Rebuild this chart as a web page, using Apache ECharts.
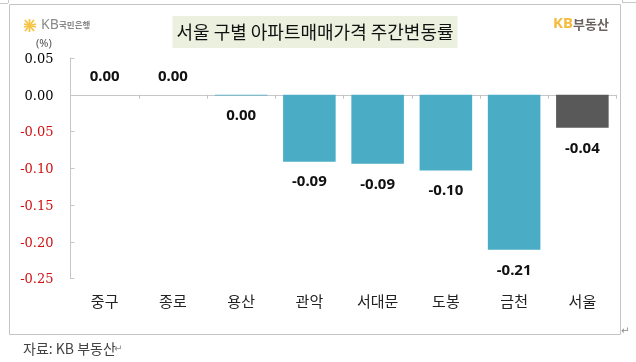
<!DOCTYPE html>
<html><head><meta charset="utf-8">
<style>html,body{margin:0;padding:0;background:#fff}#c{width:636px;height:362px}</style>
<script src="https://cdn.jsdelivr.net/npm/echarts@6/dist/echarts.min.js"></script>
</head><body><div id="c"></div>
<script>
const categories = ['중구','종로','용산','관악','서대문','도봉','금천','서울'];
const values = [0, 0, -0.001, -0.091, -0.094, -0.103, -0.211, -0.045];
const valueLabels = ['0.00','0.00','0.00','-0.09','-0.09','-0.10','-0.21','-0.04'];
const KR = '"Noto Sans CJK KR","Noto Sans",sans-serif';
const line = (x1,y1,x2,y2,stroke,w) => ({type:'line',silent:true,shape:{x1,y1,x2,y2},style:{stroke,lineWidth:w||1}});
const txt = (x,y,text,font,fill,extra) => ({type:'text',silent:true,x,y,style:Object.assign({text,font,fill,textVerticalAlign:'middle'},extra||{})});
const star = [[25,20,34,31],[34,20,25,31],[29.5,19,29.5,32],[24,24,36,27],[24,27,36,24]].map(a=>line(a[0],a[1],a[2],a[3],'#f6c445',1.8));
const chart = echarts.init(document.getElementById('c'),null,{renderer:'canvas'});
chart.setOption({
  animation:false,
  backgroundColor:'#fff',
  title:{text:'서울 구별 아파트매매가격 주간변동률',left:172.5,top:16,backgroundColor:'#ebf0df',
    padding:[6,4,6,4],textStyle:{fontFamily:KR,fontSize:18,fontWeight:'normal',color:'#111',lineHeight:20}},
  grid:{left:70.5,right:19.5,top:58,bottom:83.5},
  xAxis:[
    {type:'category',data:categories,axisLine:{onZero:true,lineStyle:{color:'#c6c6c6',width:1}},
     axisTick:{show:true,length:4,lineStyle:{color:'#c6c6c6'}},axisLabel:{show:false}},
    {type:'category',data:categories,position:'bottom',axisLine:{show:false},axisTick:{show:false},
     axisLabel:{margin:15,interval:0,fontFamily:KR,fontSize:15,color:'#222'}}
  ],
  yAxis:{type:'value',min:-0.25,max:0.05,interval:0.05,splitLine:{show:false},
    axisLine:{show:true,lineStyle:{color:'#c6c6c6',width:1}},
    axisTick:{show:true,inside:true,length:4,lineStyle:{color:'#c6c6c6'}},
    axisLabel:{margin:17,fontFamily:'"DejaVu Serif",serif',fontSize:13,
      color:v=>v<0?'#d01010':'#000',formatter:v=>'{a|'+v.toFixed(2)+'}',
      rich:{a:{padding:[3,0,0,0],fontFamily:'"DejaVu Serif",serif',fontSize:13}}}},
  series:[{type:'bar',xAxisIndex:0,barWidth:'77%',
    data:values.map((v,i)=>({value:v,
      itemStyle:{color:categories[i]==='서울'?'#595959':'#4bacc6'},
      label:{position:v<0?'bottom':'top',distance:v<0?13:11}})),
    label:{show:true,formatter:p=>valueLabels[p.dataIndex],fontFamily:'"Noto Sans",sans-serif',fontSize:15,fontWeight:'bold',color:'#111'}
  }],
  graphic:[
    {type:'rect',silent:true,shape:{x:9.5,y:4.5,width:611,height:330},style:{fill:'none',stroke:'#c4c4c4',lineWidth:1}},
    line(8.5,0,8.5,3,'#c8c8c8'),line(0,3.5,8,3.5,'#c8c8c8'),line(622.5,0,622.5,2,'#c8c8c8'),line(622,2.5,636,2.5,'#c8c8c8'),
    ...star,
    txt(41,25,'KB','14px "Noto Sans",sans-serif','#8a8a8a'),
    txt(59,25,'국민은행','bold 8.5px '+KR,'#8a8a8a'),
    txt(553,24,'KB','bold 15px "Noto Sans",sans-serif','#f5b93c'),
    txt(573,24,'부동산','bold 13px '+KR,'#6b6460'),
    txt(36,44,'(%)','11px "Noto Sans",sans-serif','#555'),
    txt(23,349,'자료: KB 부동산','14px '+KR,'#444'),
    txt(114,349,'↵','10px "DejaVu Sans",sans-serif','#888'),
    txt(621,331,'↵','10px "DejaVu Sans",sans-serif','#888')
  ]
});
</script></body></html>
